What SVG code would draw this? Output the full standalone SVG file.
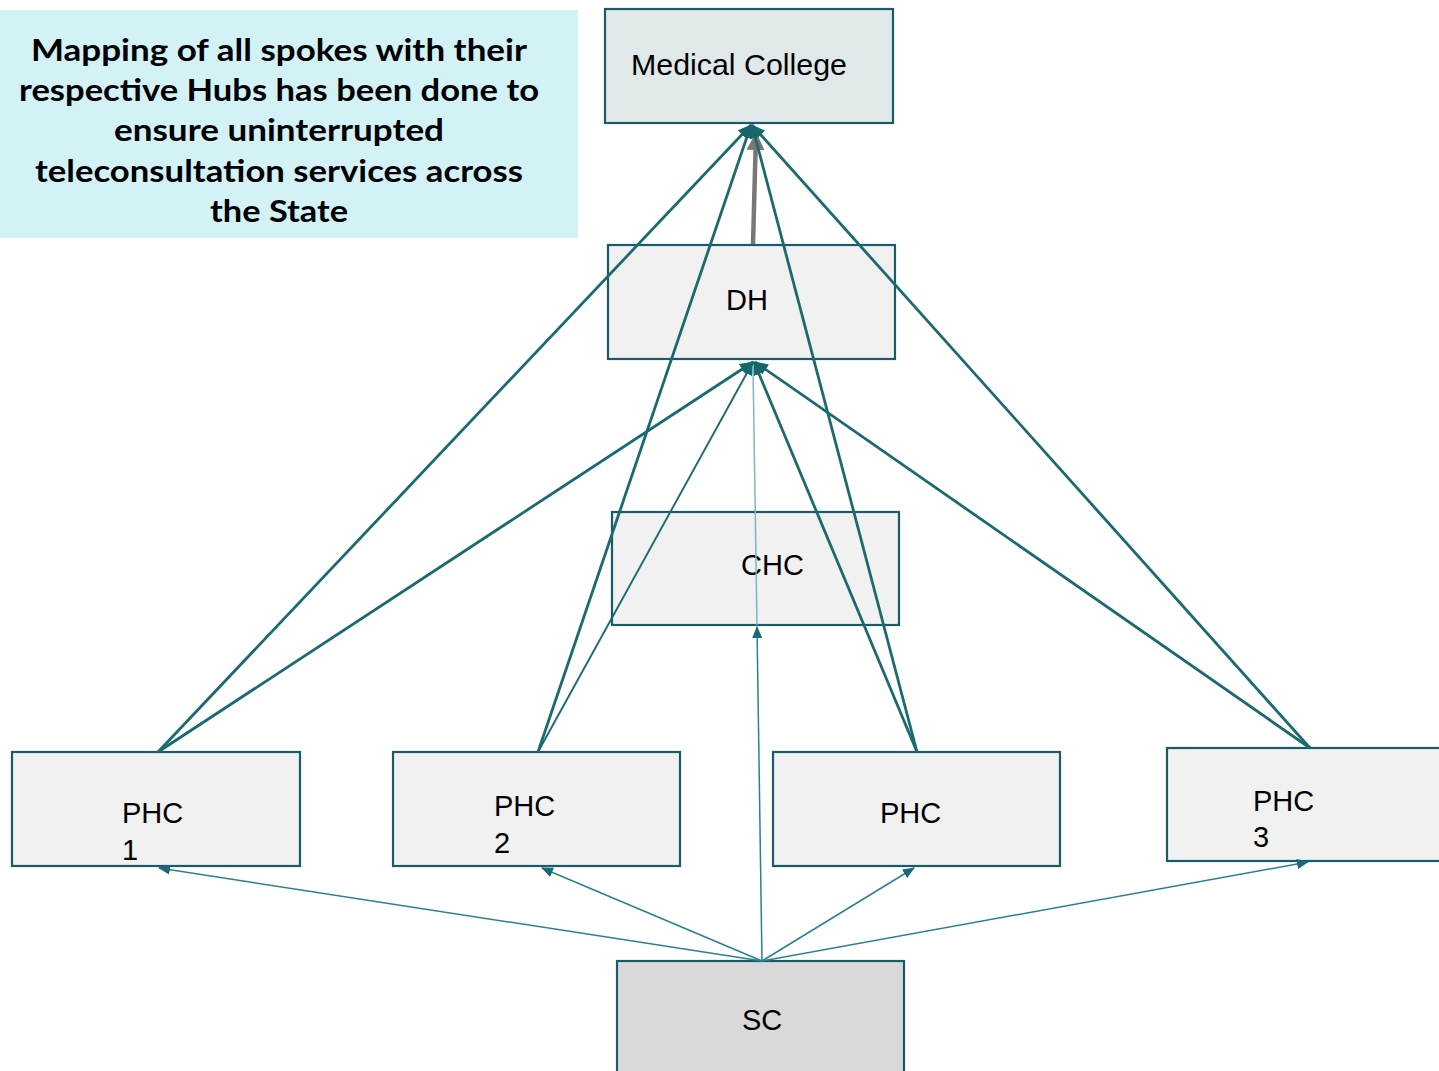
<svg xmlns="http://www.w3.org/2000/svg" width="1439" height="1071" viewBox="0 0 1439 1071">
<style>
.box{stroke:#1B5A68;stroke-width:2.2}
.lbl{font-family:"Liberation Sans",Arial,sans-serif;font-size:29px;fill:#000}
.title{font-family:Lato,"Liberation Sans",sans-serif;font-weight:bold;font-size:30px;fill:#000;text-anchor:middle}
.thick{stroke:#1A6A70;stroke-width:2.8;fill:none}
.thin{stroke:#2A8090;stroke-width:1.5;fill:none}
.mid{stroke:#1A6A70;stroke-width:1.9;fill:none}
.gray{stroke:#777;stroke-width:4.5;fill:none}
</style>
<defs>
<marker id="ah" markerUnits="userSpaceOnUse" viewBox="0 0 14 12" markerWidth="14" markerHeight="12" refX="13" refY="6" orient="auto">
<path d="M0,0 L14,6 L0,12 Z" fill="#16666C"/>
</marker>
<marker id="as" markerUnits="userSpaceOnUse" viewBox="0 0 12 10" markerWidth="12" markerHeight="10" refX="11" refY="5" orient="auto">
<path d="M0,0 L12,5 L0,10 Z" fill="#17687A"/>
</marker>
<marker id="ag" markerUnits="userSpaceOnUse" viewBox="0 0 18 18" markerWidth="18" markerHeight="18" refX="16" refY="9" orient="auto">
<path d="M0,0 L18,9 L0,18 Z" fill="#777"/>
</marker>
</defs>
<g id="note">
<rect x="0" y="10" width="578" height="228" fill="#D3F2F6"/>
<text class="title" x="279" y="61" textLength="496" lengthAdjust="spacingAndGlyphs">Mapping of all spokes with their</text>
<text class="title" x="279" y="101" textLength="520" lengthAdjust="spacingAndGlyphs">respective Hubs has been done to</text>
<text class="title" x="279" y="141" textLength="330" lengthAdjust="spacingAndGlyphs">ensure uninterrupted</text>
<text class="title" x="279" y="182" textLength="488" lengthAdjust="spacingAndGlyphs">teleconsultation services across</text>
<text class="title" x="279" y="222" textLength="138" lengthAdjust="spacingAndGlyphs">the State</text>
</g>
<g id="mc"><rect class="box" x="605" y="9" width="288" height="114" fill="#E1E8EA"/><text class="lbl" x="631" y="75" textLength="216" lengthAdjust="spacingAndGlyphs">Medical College</text></g>
<g id="dh"><rect class="box" x="608" y="245" width="287" height="114" fill="#F1F1F1"/><text class="lbl" x="726" y="310">DH</text></g>
<g id="chc"><rect class="box" x="612" y="512" width="287" height="113" fill="#F1F1F1"/><text class="lbl" x="741" y="575">CHC</text></g>
<g id="phc1"><rect class="box" x="12" y="752" width="288" height="114" fill="#F1F1F1"/><text class="lbl" x="122" y="823">PHC</text><text class="lbl" x="122" y="860">1</text></g>
<g id="phc2"><rect class="box" x="393" y="752" width="287" height="114" fill="#F1F1F1"/><text class="lbl" x="494" y="816">PHC</text><text class="lbl" x="494" y="853">2</text></g>
<g id="phc"><rect class="box" x="773" y="752" width="287" height="114" fill="#F1F1F1"/><text class="lbl" x="880" y="823">PHC</text></g>
<g id="phc3"><rect class="box" x="1167" y="748" width="290" height="113" fill="#F1F1F1"/><text class="lbl" x="1253" y="811">PHC</text><text class="lbl" x="1253" y="847">3</text></g>
<g id="sc"><rect class="box" x="617" y="961" width="287" height="120" fill="#D9D9D9"/><text class="lbl" x="742" y="1030">SC</text></g>
<g id="connectors">
<line class="gray" x1="753" y1="244" x2="756" y2="134" marker-end="url(#ag)"/>
<line class="thick" x1="158" y1="752" x2="751" y2="125" marker-end="url(#ah)"/>
<line class="thick" x1="538" y1="752" x2="751" y2="125" marker-end="url(#ah)"/>
<line class="thick" x1="917" y1="752" x2="752" y2="125" marker-end="url(#ah)"/>
<line class="thick" x1="1310" y1="748" x2="752" y2="125" marker-end="url(#ah)"/>
<line class="thick" x1="158" y1="752" x2="753" y2="362" marker-end="url(#ah)"/>
<line class="mid" x1="538" y1="752" x2="753" y2="362" marker-end="url(#ah)"/>
<line class="thick" x1="917" y1="752" x2="754" y2="362" marker-end="url(#ah)"/>
<line class="thick" x1="1310" y1="748" x2="755" y2="362" marker-end="url(#ah)"/>
<line class="thin" x1="757" y1="625" x2="753" y2="366" style="stroke:#7FB5C0"/>
<line class="thin" x1="762" y1="961" x2="757" y2="627" marker-end="url(#as)"/>
<line class="thin" x1="762" y1="961" x2="159" y2="868" marker-end="url(#as)"/>
<line class="thin" x1="762" y1="961" x2="542" y2="868" marker-end="url(#as)"/>
<line class="thin" x1="762" y1="961" x2="914" y2="868" marker-end="url(#as)"/>
<line class="thin" x1="762" y1="961" x2="1308" y2="862" marker-end="url(#as)"/>
</g>
</svg>
